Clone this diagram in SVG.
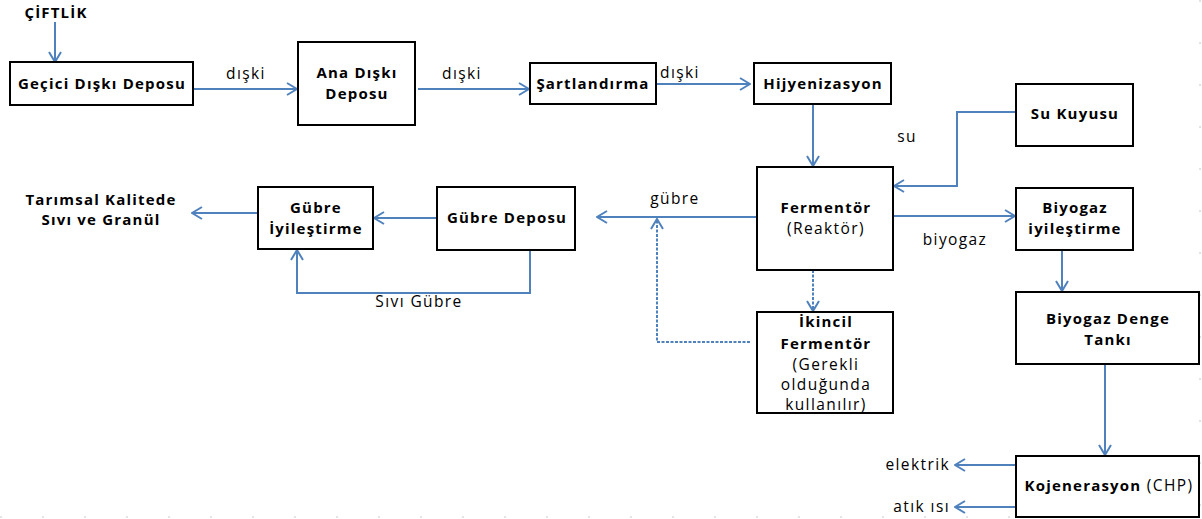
<svg xmlns="http://www.w3.org/2000/svg" width="1202" height="519" viewBox="0 0 1202 519">
<style>
.box{fill:#fff;stroke:#000;stroke-width:2}
.b{font-family:"Open Sans","Liberation Sans",sans-serif;font-weight:bold;font-size:15px;letter-spacing:1.2px;fill:#000;text-anchor:middle}
.r{font-family:"Open Sans","Liberation Sans",sans-serif;font-size:15.5px;letter-spacing:1.4px;fill:#000;text-anchor:middle}
.e{text-anchor:end}
.c{fill:none;stroke:#4F81BD;stroke-width:2;marker-end:url(#ah)}
.d{stroke-dasharray:3 1.5}
.edge{stroke:#c8c8c8;stroke-width:1;stroke-dasharray:2 40;fill:none}
</style>
<defs>
<marker id="ah" viewBox="0 0 12 14" refX="11" refY="7" markerWidth="12" markerHeight="14" markerUnits="userSpaceOnUse" orient="auto">
<path d="M1 1 L11 7 L1 13" fill="none" stroke="#4F81BD" stroke-width="2"/>
</marker>
</defs>
<rect width="1202" height="519" fill="#fff"/>
<path class="edge" d="M0 517 H1202 M1200 0 V519"/>
<g id="connectors">
<path class="c" d="M55 22 V62"/>
<path class="c" d="M193 89 H297"/>
<path class="c" d="M418 89 H529"/>
<path class="c" d="M656 84 H750"/>
<path class="c" d="M813 104 V166"/>
<path class="c" d="M1016 112 H957 V186 H894"/>
<path class="c" d="M893 216 H1015"/>
<path class="c" d="M757 217 H597"/>
<path class="c" d="M437 218 H374"/>
<path class="c" d="M258 213 H192"/>
<path class="c" d="M530 250 V293 H297 V250"/>
<path class="c d" d="M813 270 V311"/>
<path class="c d" d="M750 342 H657 V219"/>
<path class="c" d="M1062 250 V291"/>
<path class="c" d="M1105 364 V455"/>
<path class="c" d="M1016 465 H955"/>
<path class="c" d="M1016 507 H955"/>
<text class="r" x="246" y="79">dışki</text>
<text class="r" x="462" y="79">dışki</text>
<text class="r" x="680" y="78">dışki</text>
<text class="r" x="907" y="142">su</text>
<text class="r" x="955" y="245">biyogaz</text>
<text class="r" x="675" y="204">gübre</text>
<text class="r" x="419" y="307">Sıvı Gübre</text>
<text class="r e" x="950" y="470">elektrik</text>
<text class="r e" x="950" y="512">atık ısı</text>
</g>
<g id="ciftlik"><text class="b" x="56" y="18">ÇİFTLİK</text></g>
<g id="gecici"><rect class="box" x="10" y="62" width="183" height="43"/><text class="b" x="102" y="89">Geçici Dışkı Deposu</text></g>
<g id="ana"><rect class="box" x="298" y="42" width="117" height="83"/><text class="b" x="357" y="78">Ana Dışkı</text><text class="b" x="357" y="99">Deposu</text></g>
<g id="sart"><rect class="box" x="530" y="63" width="126" height="41"/><text class="b" x="593" y="89">Şartlandırma</text></g>
<g id="hijyen"><rect class="box" x="754" y="63" width="137" height="41"/><text class="b" x="823" y="89">Hijyenizasyon</text></g>
<g id="su"><rect class="box" x="1016" y="84" width="117" height="62"/><text class="b" x="1075" y="119">Su Kuyusu</text></g>
<g id="ferm"><rect class="box" x="757" y="167" width="136" height="103"/><text class="b" x="826" y="213">Fermentör</text><text class="r" x="826" y="234">(Reaktör)</text></g>
<g id="biyogaz"><rect class="box" x="1016" y="188" width="117" height="62"/><text class="b" x="1075" y="213">Biyogaz</text><text class="b" x="1075" y="234">iyileştirme</text></g>
<g id="gdepo"><rect class="box" x="437" y="187" width="138" height="63"/><text class="b" x="507" y="223">Gübre Deposu</text></g>
<g id="giyi"><rect class="box" x="258" y="187" width="115" height="62"/><text class="b" x="316" y="213">Gübre</text><text class="b" x="316" y="234">İyileştirme</text></g>
<g id="tarim"><text class="b" x="101" y="205">Tarımsal Kalitede</text><text class="b" x="101" y="225">Sıvı ve Granül</text></g>
<g id="ikincil"><rect class="box" x="757" y="312" width="136" height="101"/><text class="b" x="826" y="327">İkincil</text><text class="b" x="826" y="349">Fermentör</text><text class="r" x="826" y="370">(Gerekli</text><text class="r" x="826" y="390">olduğunda</text><text class="r" x="826" y="410">kullanılır)</text></g>
<g id="denge"><rect class="box" x="1016" y="292" width="183" height="72"/><text class="b" x="1108" y="324">Biyogaz Denge</text><text class="b" x="1108" y="345">Tankı</text></g>
<g id="kojen"><rect class="box" x="1016" y="456" width="183" height="61"/><text class="b" x="1109" y="491"><tspan>Kojenerasyon</tspan><tspan class="r" style="font-weight:normal"> (CHP)</tspan></text></g>
</svg>
